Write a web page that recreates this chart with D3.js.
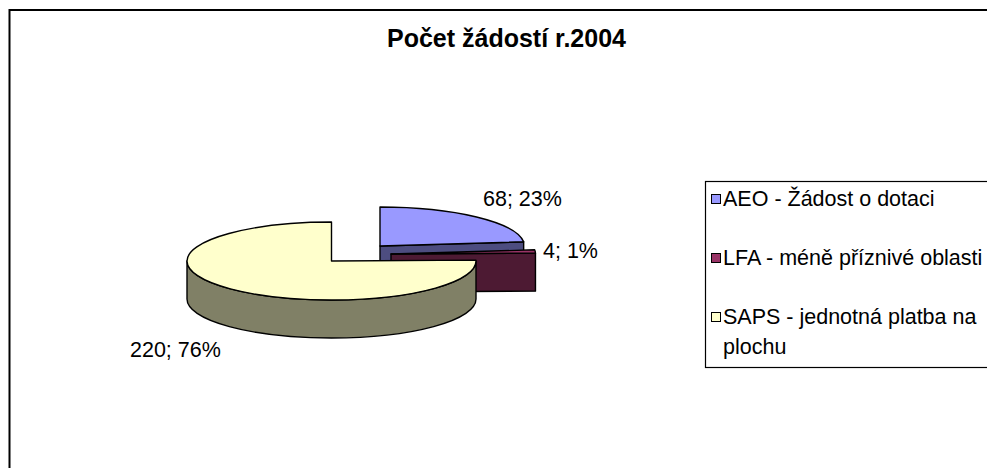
<!DOCTYPE html>
<head>
	<meta charset="utf-8">
	<style>
		body { margin: 0; background: #fff; }
		svg { font-family: "Liberation Sans", Arial, sans-serif; }
		svg .edge { stroke: #000; stroke-width: 1.4; stroke-linejoin: round; }
		svg .lbl { font-size: 21.5px; fill: #000; }
	</style>
</head>
<body>
	<svg width="987" height="468"></svg>
	<script src="https://cdn.jsdelivr.net/npm/d3@7"></script>
	<script>

		var categories = ["AEO - Žádost o dotaci", "LFA - méně příznivé oblasti", "SAPS - jednotná platba na plochu"];
		var values = [68, 4, 220];
		var percentLabels = ["23%", "1%", "76%"];
		var title = "Počet žádostí r.2004";

		var topColors = ["#9999ff", "#993366", "#ffffcc"];
		var sideColors = ["#4d4d80", "#4d1a33", "#808066"];

		var svg = d3.select("svg");

		// outer chart frame (runs off the right and bottom)
		svg.append("rect")
			.attr("x", 9.5).attr("y", 10)
			.attr("width", 1100).attr("height", 600)
			.attr("fill", "#fff").attr("stroke", "#000").attr("stroke-width", 2);

		svg.append("text")
			.attr("x", 506.5).attr("y", 47)
			.attr("text-anchor", "middle")
			.attr("font-size", "25px").attr("font-weight", "bold")
			.text(title);

		// 3d pie geometry
		var cx = 331.5, cy = 261, rx = 144.5, ry = 39, depth = 38;
		var explode = [[48.5, -15], [59.5, -7], [0, 0]];
		var labelPos = [[483, 206], [543, 258], [130, 357]];

		var pie = d3.pie().sort(null).startAngle(0).endAngle(2 * Math.PI);
		var arcs = pie(values);

		function pt(c, a, dy) {
			return [c[0] + rx * Math.sin(a), c[1] - ry * Math.cos(a) + (dy || 0)];
		}

		function topPath(c, a0, a1) {
			var p0 = pt(c, a0), p1 = pt(c, a1);
			return "M" + c + "L" + p0 + "A" + rx + "," + ry + " 0 " + (a1 - a0 > Math.PI ? 1 : 0) + " 1 " + p1 + "Z";
		}

		function wallPath(c, a0, a1) {
			var s = Math.max(a0, Math.PI / 2), e = Math.min(a1, 3 * Math.PI / 2);
			if (e <= s) return null;
			var p0 = pt(c, s), p1 = pt(c, e), q1 = pt(c, e, depth), q0 = pt(c, s, depth);
			return "M" + p0 + "A" + rx + "," + ry + " 0 0 1 " + p1 + "L" + q1 +
				"A" + rx + "," + ry + " 0 0 0 " + q0 + "Z";
		}

		function facePath(c, a) {
			var p = pt(c, a);
			return "M" + c + "L" + p + "L" + [p[0], p[1] + depth] + "L" + [c[0], c[1] + depth] + "Z";
		}

		var g = svg.append("g");

		arcs.forEach(function (d, i) {
			var c = [cx + explode[i][0], cy + explode[i][1]];
			var sg = g.append("g");
			// radial faces that turn towards the viewer
			if (Math.sin(d.endAngle) > 0.001) {
				sg.append("path").attr("class", "edge").attr("fill", sideColors[i]).attr("d", facePath(c, d.endAngle));
			}
			if (Math.sin(d.startAngle) < -0.001) {
				sg.append("path").attr("class", "edge").attr("fill", sideColors[i]).attr("d", facePath(c, d.startAngle));
			}
			var w = wallPath(c, d.startAngle, d.endAngle);
			if (w) sg.append("path").attr("class", "edge").attr("fill", sideColors[i]).attr("d", w);
			sg.append("path").attr("class", "edge").attr("fill", topColors[i]).attr("d", topPath(c, d.startAngle, d.endAngle));
		});

		// data labels
		g.selectAll(".lbl")
			.data(arcs)
			.enter().append("text")
			.attr("class", "lbl")
			.attr("x", function (d, i) { return labelPos[i][0]; })
			.attr("y", function (d, i) { return labelPos[i][1]; })
			.text(function (d, i) { return d.value + "; " + percentLabels[i]; });

		// legend
		var leg = svg.append("g");
		leg.append("rect")
			.attr("x", 705.5).attr("y", 181.5)
			.attr("width", 400).attr("height", 186)
			.attr("fill", "#fff").attr("stroke", "#000").attr("stroke-width", 1.2);

		var legLines = [[categories[0]], [categories[1]], ["SAPS - jednotná platba na", "plochu"]];
		var legY = [206, 265, 324];

		legLines.forEach(function (lines, i) {
			leg.append("rect")
				.attr("x", 711.5).attr("y", legY[i] - 11.5)
				.attr("width", 9).attr("height", 9)
				.attr("fill", topColors[i]).attr("stroke", "#000").attr("stroke-width", 1);
			var t = leg.append("text")
				.attr("class", "lbl").attr("font-size", "22.5px")
				.attr("x", 723).attr("y", legY[i]);
			lines.forEach(function (s, j) {
				t.append("tspan").attr("x", j ? 723 : 723).attr("dy", j ? 30 : 0).text(s);
			});
		});

	</script>
</body>
